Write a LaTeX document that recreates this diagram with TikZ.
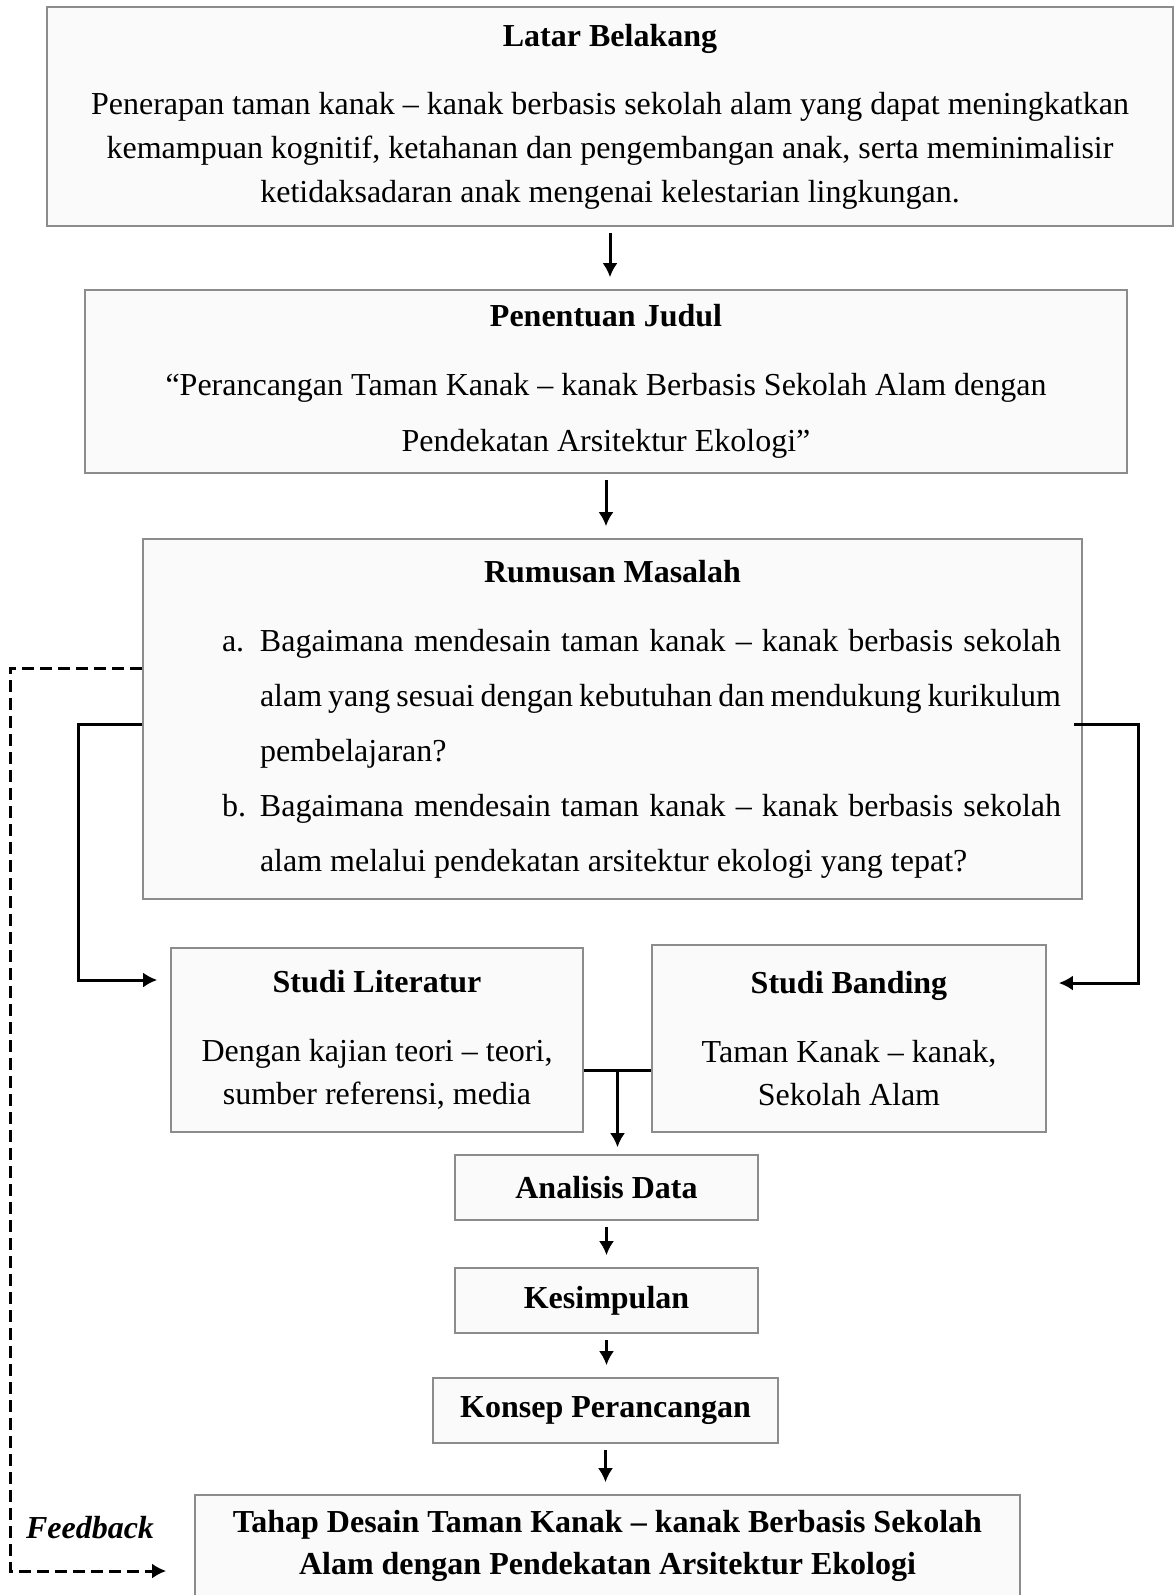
\documentclass[tikz,border=0pt]{standalone}
\usepackage{fontspec}
\setmainfont{Liberation Serif}
\usetikzlibrary{arrows.meta,calc}
\newcommand{\qitem}[2]{\par\noindent\hangindent=48pt\hangafter=1\hspace*{29pt}\makebox[19pt][l]{#1}#2}

\begin{document}
\begin{tikzpicture}[x=0.5pt,y=-0.5pt,>={Latex[length=7pt,width=7.5pt]},
  box/.style={rectangle,draw=black!45,fill=black!2,line width=0.8pt,
    inner sep=0pt,align=center,font=\fontsize{16}{22}\selectfont},
  link/.style={->,line width=1.5pt,shorten <=3pt,shorten >=6pt}]

  \useasboundingbox (0,0) rectangle (1175,1595);

  \node[box,minimum width=563pt,minimum height=109.5pt] (lb) at (610,116.5)
    {\textbf{Latar Belakang}\\[12pt]
     Penerapan taman kanak – kanak berbasis sekolah alam yang dapat meningkatkan\\
     kemampuan kognitif, ketahanan dan pengembangan anak, serta meminimalisir\\
     ketidaksadaran anak mengenai kelestarian lingkungan.};
  \node[box,minimum width=521pt,minimum height=91.5pt,
    font=\fontsize{16}{28}\selectfont] (pj) at (606,381.5)
    {\textbf{Penentuan Judul}\\[6.5pt]
     “Perancangan Taman Kanak – kanak Berbasis Sekolah Alam dengan\\
     Pendekatan Arsitektur Ekologi”};
  \node[box,minimum width=469.5pt,minimum height=180pt,
    font=\fontsize{16}{28}\selectfont] (rm) at (612.5,719)
    {\textbf{Rumusan Masalah}\\[6.5pt]
     \parbox[t]{448.5pt}{\fontsize{16}{27.5}\selectfont
       \hyphenpenalty=10000\emergencystretch=2em
       \qitem{a.}{Bagaimana mendesain taman kanak – kanak berbasis sekolah\linebreak
         alam yang sesuai dengan kebutuhan dan mendukung kurikulum\linebreak
         pembelajaran?}
       \qitem{b.}{Bagaimana mendesain taman kanak – kanak berbasis sekolah\linebreak
         alam melalui pendekatan arsitektur ekologi yang tepat?}}};
  \node[box,minimum width=206pt,minimum height=92pt,
    font=\fontsize{16}{21.5}\selectfont] (sl) at (377,1040)
    {\textbf{Studi Literatur}\\[13pt]
     Dengan kajian teori – teori,\\ sumber referensi, media};
  \node[box,minimum width=197pt,minimum height=93.5pt,
    font=\fontsize{16}{21.5}\selectfont] (sb) at (849,1038.5)
    {\textbf{Studi Banding}\\[13pt]
     Taman Kanak – kanak,\\ Sekolah Alam};
  \node[box,minimum width=151.5pt,minimum height=32.5pt] (ad) at (606.5,1187.5)
    {\textbf{Analisis Data}};
  \node[box,minimum width=151.5pt,minimum height=32.5pt] (ks) at (606.5,1300.5)
    {\textbf{Kesimpulan}};
  \node[box,minimum width=172.5pt,minimum height=32.5pt] (kp) at (605.5,1410.5)
    {\textbf{Konsep Perancangan}};
  \node[box,minimum width=412.5pt,minimum height=51pt,
    font=\fontsize{16}{21}\selectfont] (td) at (607.5,1546)
    {\textbf{Tahap Desain Taman Kanak – kanak Berbasis Sekolah}\\
     \textbf{Alam dengan Pendekatan Arsitektur Ekologi}};
  \node[font=\fontsize{16}{20}\selectfont\bfseries\itshape] (fb) at (90,1528) {Feedback};

  % main flow
  \draw[link] (lb.south) -- (lb.south |- pj.north);
  \draw[link] (pj.south) -- (pj.south |- rm.north);
  \draw[link] (ad.south) -- (ad.south |- ks.north);
  \draw[link] (ks.south) -- (ks.south |- kp.north);
  \draw[link] (kp.south) -- (kp.south |- td.north);

  % branches to the studies
  \draw[link,shorten <=0pt,shorten >=6.5pt] ([yshift=-2.5pt]rm.west) -- ++(-32pt,0)
    |- ([yshift=30pt]sl.west);
  \draw[link,shorten <=0pt,shorten >=6pt] ([xshift=-4.5pt,yshift=-2.5pt]rm.east) -- ++(32.5pt,0)
    |- ([yshift=27.75pt]sb.east);

  % join into analysis
  \draw[line width=1.5pt] ([yshift=-15pt]sl.east) coordinate (jl) -- (jl -| sb.west) coordinate (jr);
  \coordinate (jm) at ($(jl)!0.5!(jr)$);
  \draw[link,shorten <=0pt,shorten >=3.5pt] (jm) -- (jm |- ad.north);

  % feedback loop
  \draw[link,dashed,dash pattern=on 6pt off 3pt,shorten <=0pt,shorten >=14pt]
    ([yshift=25.5pt]rm.west) -- ++(-66pt,0) |- ([yshift=-12.5pt]td.west);
\end{tikzpicture}
\end{document}
